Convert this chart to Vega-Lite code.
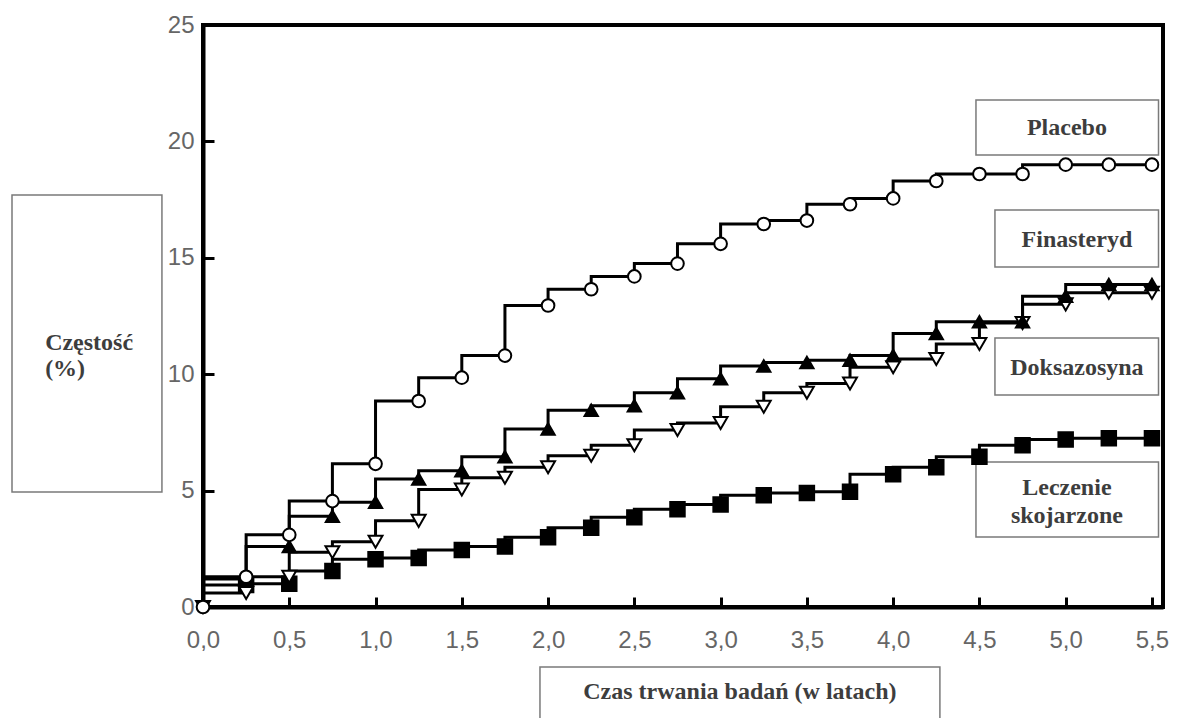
{
  "$schema": "https://vega.github.io/schema/vega-lite/v6.json",
  "width": 960,
  "height": 582,
  "autosize": "none",
  "padding": {"left": 203, "top": 25, "right": 24, "bottom": 111},
  "background": "white",
  "config": {
    "view": {"stroke": "black", "strokeWidth": 4},
    "axis": {"grid": false}
  },
  "datasets": {
    "curves": [
      {"s": "Leczenie skojarzone", "t": 0, "v": 0},
      {"s": "Leczenie skojarzone", "t": 0.25, "v": 0.95},
      {"s": "Leczenie skojarzone", "t": 0.5, "v": 1.0},
      {"s": "Leczenie skojarzone", "t": 0.75, "v": 1.55},
      {"s": "Leczenie skojarzone", "t": 1.0, "v": 2.05},
      {"s": "Leczenie skojarzone", "t": 1.25, "v": 2.1},
      {"s": "Leczenie skojarzone", "t": 1.5, "v": 2.45},
      {"s": "Leczenie skojarzone", "t": 1.75, "v": 2.6},
      {"s": "Leczenie skojarzone", "t": 2.0, "v": 3.0},
      {"s": "Leczenie skojarzone", "t": 2.25, "v": 3.4},
      {"s": "Leczenie skojarzone", "t": 2.5, "v": 3.85},
      {"s": "Leczenie skojarzone", "t": 2.75, "v": 4.2},
      {"s": "Leczenie skojarzone", "t": 3.0, "v": 4.4},
      {"s": "Leczenie skojarzone", "t": 3.25, "v": 4.8},
      {"s": "Leczenie skojarzone", "t": 3.5, "v": 4.9},
      {"s": "Leczenie skojarzone", "t": 3.75, "v": 4.95},
      {"s": "Leczenie skojarzone", "t": 4.0, "v": 5.7},
      {"s": "Leczenie skojarzone", "t": 4.25, "v": 6.0},
      {"s": "Leczenie skojarzone", "t": 4.5, "v": 6.45},
      {"s": "Leczenie skojarzone", "t": 4.75, "v": 6.95},
      {"s": "Leczenie skojarzone", "t": 5.0, "v": 7.2},
      {"s": "Leczenie skojarzone", "t": 5.25, "v": 7.25},
      {"s": "Leczenie skojarzone", "t": 5.5, "v": 7.25},
      {"s": "Doksazosyna", "t": 0, "v": 0},
      {"s": "Doksazosyna", "t": 0.25, "v": 0.6},
      {"s": "Doksazosyna", "t": 0.5, "v": 1.3},
      {"s": "Doksazosyna", "t": 0.75, "v": 2.35},
      {"s": "Doksazosyna", "t": 1.0, "v": 2.8},
      {"s": "Doksazosyna", "t": 1.25, "v": 3.7},
      {"s": "Doksazosyna", "t": 1.5, "v": 5.05},
      {"s": "Doksazosyna", "t": 1.75, "v": 5.55},
      {"s": "Doksazosyna", "t": 2.0, "v": 6.0},
      {"s": "Doksazosyna", "t": 2.25, "v": 6.5},
      {"s": "Doksazosyna", "t": 2.5, "v": 6.95},
      {"s": "Doksazosyna", "t": 2.75, "v": 7.6},
      {"s": "Doksazosyna", "t": 3.0, "v": 7.9},
      {"s": "Doksazosyna", "t": 3.25, "v": 8.6},
      {"s": "Doksazosyna", "t": 3.5, "v": 9.2},
      {"s": "Doksazosyna", "t": 3.75, "v": 9.6},
      {"s": "Doksazosyna", "t": 4.0, "v": 10.3},
      {"s": "Doksazosyna", "t": 4.25, "v": 10.65},
      {"s": "Doksazosyna", "t": 4.5, "v": 11.3},
      {"s": "Doksazosyna", "t": 4.75, "v": 12.2},
      {"s": "Doksazosyna", "t": 5.0, "v": 13.0},
      {"s": "Doksazosyna", "t": 5.25, "v": 13.5},
      {"s": "Doksazosyna", "t": 5.5, "v": 13.5},
      {"s": "Finasteryd", "t": 0, "v": 0},
      {"s": "Finasteryd", "t": 0.25, "v": 1.2},
      {"s": "Finasteryd", "t": 0.5, "v": 2.6},
      {"s": "Finasteryd", "t": 0.75, "v": 3.9},
      {"s": "Finasteryd", "t": 1.0, "v": 4.5},
      {"s": "Finasteryd", "t": 1.25, "v": 5.5},
      {"s": "Finasteryd", "t": 1.5, "v": 5.85},
      {"s": "Finasteryd", "t": 1.75, "v": 6.45},
      {"s": "Finasteryd", "t": 2.0, "v": 7.65},
      {"s": "Finasteryd", "t": 2.25, "v": 8.45},
      {"s": "Finasteryd", "t": 2.5, "v": 8.65},
      {"s": "Finasteryd", "t": 2.75, "v": 9.2},
      {"s": "Finasteryd", "t": 3.0, "v": 9.8},
      {"s": "Finasteryd", "t": 3.25, "v": 10.35},
      {"s": "Finasteryd", "t": 3.5, "v": 10.5},
      {"s": "Finasteryd", "t": 3.75, "v": 10.6},
      {"s": "Finasteryd", "t": 4.0, "v": 10.8},
      {"s": "Finasteryd", "t": 4.25, "v": 11.75},
      {"s": "Finasteryd", "t": 4.5, "v": 12.25},
      {"s": "Finasteryd", "t": 4.75, "v": 12.25},
      {"s": "Finasteryd", "t": 5.0, "v": 13.35},
      {"s": "Finasteryd", "t": 5.25, "v": 13.85},
      {"s": "Finasteryd", "t": 5.5, "v": 13.85},
      {"s": "Placebo", "t": 0, "v": 0},
      {"s": "Placebo", "t": 0.25, "v": 1.3},
      {"s": "Placebo", "t": 0.5, "v": 3.1},
      {"s": "Placebo", "t": 0.75, "v": 4.55},
      {"s": "Placebo", "t": 1.0, "v": 6.15},
      {"s": "Placebo", "t": 1.25, "v": 8.85},
      {"s": "Placebo", "t": 1.5, "v": 9.85},
      {"s": "Placebo", "t": 1.75, "v": 10.8},
      {"s": "Placebo", "t": 2.0, "v": 12.95},
      {"s": "Placebo", "t": 2.25, "v": 13.65},
      {"s": "Placebo", "t": 2.5, "v": 14.2},
      {"s": "Placebo", "t": 2.75, "v": 14.75},
      {"s": "Placebo", "t": 3.0, "v": 15.6},
      {"s": "Placebo", "t": 3.25, "v": 16.45},
      {"s": "Placebo", "t": 3.5, "v": 16.6},
      {"s": "Placebo", "t": 3.75, "v": 17.3},
      {"s": "Placebo", "t": 4.0, "v": 17.55},
      {"s": "Placebo", "t": 4.25, "v": 18.3},
      {"s": "Placebo", "t": 4.5, "v": 18.6},
      {"s": "Placebo", "t": 4.75, "v": 18.6},
      {"s": "Placebo", "t": 5.0, "v": 19.0},
      {"s": "Placebo", "t": 5.25, "v": 19.0},
      {"s": "Placebo", "t": 5.5, "v": 19.0}
    ],
    "boxes": [
      {"t": -1.107, "v": 17.7, "t2": -0.238, "v2": 4.94},
      {"t": 1.953, "v": -2.58, "t2": 4.271, "v2": -5.6},
      {"t": 4.48, "v": 21.78, "t2": 5.538, "v2": 19.42},
      {"t": 4.59, "v": 17.05, "t2": 5.538, "v2": 14.6},
      {"t": 4.59, "v": 11.55, "t2": 5.538, "v2": 9.11},
      {"t": 4.48, "v": 6.23, "t2": 5.538, "v2": 3.01}
    ],
    "centerLabels": [
      {"t": 3.112, "v": -3.65, "label": "Czas trwania badań (w latach)"},
      {"t": 5.007, "v": 20.58, "label": "Placebo"},
      {"t": 5.065, "v": 15.76, "label": "Finasteryd"},
      {"t": 5.065, "v": 10.27, "label": "Doksazosyna"},
      {"t": 5.007, "v": 5.11, "label": "Leczenie"},
      {"t": 5.007, "v": 3.92, "label": "skojarzone"}
    ],
    "leftLabels": [
      {"t": -0.915, "v": 11.34, "label": "Częstość"},
      {"t": -0.915, "v": 10.22, "label": "(%)"}
    ]
  },
  "encoding": {
    "x": {
      "field": "t",
      "type": "quantitative",
      "title": null,
      "scale": {"domain": [0, 5.564], "nice": false, "zero": false},
      "axis": {
        "values": [0, 0.5, 1, 1.5, 2, 2.5, 3, 3.5, 4, 4.5, 5, 5.5],
        "labelExpr": "replace(format(datum.value, '.1f'), '.', ',')",
        "domainColor": "black",
        "domainWidth": 4,
        "tickColor": "black",
        "tickWidth": 3,
        "tickSize": -10,
        "labelPadding": 31,
        "labelFont": "Liberation Sans",
        "labelFontSize": 24,
        "labelColor": "#666666",
        "labelFlush": false,
        "labelOverlap": false
      }
    },
    "y": {
      "field": "v",
      "type": "quantitative",
      "title": null,
      "scale": {"domain": [0, 25], "nice": false, "zero": false},
      "axis": {
        "values": [0, 5, 10, 15, 20, 25],
        "domainColor": "black",
        "domainWidth": 4,
        "tickColor": "black",
        "tickWidth": 3,
        "tickSize": -11,
        "labelPadding": 20,
        "labelFont": "Liberation Sans",
        "labelFontSize": 24,
        "labelColor": "#666666",
        "labelFlush": false,
        "labelOverlap": false
      }
    }
  },
  "layer": [
    {
      "data": {"name": "boxes"},
      "mark": {"type": "rect", "fill": "white", "stroke": "#7a7a7a", "strokeWidth": 1.5},
      "encoding": {
        "x2": {"field": "t2"},
        "y2": {"field": "v2"}
      }
    },
    {
      "data": {"name": "centerLabels"},
      "mark": {"type": "text", "align": "center", "baseline": "middle", "font": "Liberation Serif", "fontWeight": "bold", "fontSize": 24, "color": "#3d3d3d"},
      "encoding": {"text": {"field": "label"}}
    },
    {
      "data": {"name": "leftLabels"},
      "mark": {"type": "text", "align": "left", "baseline": "middle", "font": "Liberation Serif", "fontWeight": "bold", "fontSize": 24, "color": "#3d3d3d"},
      "encoding": {"text": {"field": "label"}}
    },
    {
      "data": {"name": "curves"},
      "mark": {"type": "line", "interpolate": "step-before", "color": "black", "strokeWidth": 3},
      "encoding": {"detail": {"field": "s"}}
    },
    {
      "data": {"name": "curves"},
      "transform": [{"filter": "datum.t > 0 || datum.s == 'Placebo' || datum.s == 'Doksazosyna'"}],
      "mark": {"type": "point", "filled": true, "stroke": "black", "strokeWidth": 2, "opacity": 1},
      "encoding": {
        "shape": {"field": "s", "type": "nominal", "legend": null,
          "scale": {"domain": ["Placebo", "Finasteryd", "Doksazosyna", "Leczenie skojarzone"], "range": ["circle", "triangle-up", "triangle-down", "square"]}},
        "fill": {"field": "s", "type": "nominal", "legend": null,
          "scale": {"domain": ["Placebo", "Finasteryd", "Doksazosyna", "Leczenie skojarzone"], "range": ["white", "black", "white", "black"]}},
        "size": {"field": "s", "type": "nominal", "legend": null,
          "scale": {"domain": ["Placebo", "Finasteryd", "Doksazosyna", "Leczenie skojarzone"], "range": [160, 210, 190, 150]}}
      }
    }
  ]
}
